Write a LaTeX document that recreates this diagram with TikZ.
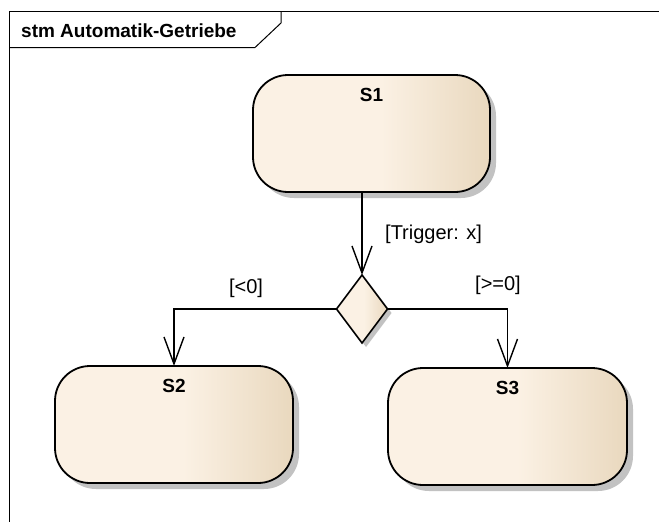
\documentclass[tikz,border=0pt]{standalone}
\usepackage{fontspec}
\setmainfont{Liberation Sans}
\usetikzlibrary{shapes.geometric,shadows,arrows.meta}

\definecolor{stateLight}{HTML}{FBF1E4}
\definecolor{stateDark}{HTML}{E9D8BE}
\definecolor{shadowGray}{HTML}{C2C2C2}

% flat cream on the left, turning tan towards the right edge
\pgfdeclarehorizontalshading{statefill}{100bp}{%
  color(0bp)=(stateLight); color(25bp)=(stateLight); color(52bp)=(stateLight);
  color(75bp)=(stateDark); color(100bp)=(stateDark)}

\tikzset{
  statebox/.style={draw=black, line width=1.8pt, rounded corners=35pt,
    shading=statefill, shading angle=0,
    drop shadow={shadow xshift=6pt, shadow yshift=-6pt, fill=shadowGray, opacity=1},
    inner sep=0pt, outer sep=0pt},
  choice/.style={diamond, draw=black, line width=1.6pt, aspect=0.75,
    shading=statefill, shading angle=0,
    drop shadow={shadow xshift=4pt, shadow yshift=-4pt, fill=shadowGray, opacity=1},
    minimum width=51pt, minimum height=68pt, inner sep=0pt, outer sep=0pt},
  statename/.style={font=\fontsize{19}{21}\selectfont\bfseries, inner sep=0pt},
  guard/.style={font=\fontsize{20}{22}\selectfont, inner sep=0pt},
  flow/.style={draw=black, line width=1.4pt,
    -{Straight Barb[length=27pt, width=20pt, line width=1.4pt]}},
  frameline/.style={draw=black, line width=1pt}
}

\begin{document}
\begin{tikzpicture}[x=1pt, y=-1pt]
  \useasboundingbox[fill=white] (0,0) rectangle (659,522);

  % diagram frame and its name tab
  \draw[frameline] (9,522) -- (9,11) -- (659,11);
  \draw[frameline] (9,47.5) -- (255,47.5) -- (281,23) -- (281,11);
  \node[anchor=base west, statename] (title) at (21,37) {stm Automatik-Getriebe};

  % states
  \node[statebox, minimum width=237pt, minimum height=117pt] (S1) at (371.5,133.5) {};
  \node[statebox, minimum width=238pt, minimum height=117pt] (S2) at (174,424.5) {};
  \node[statebox, minimum width=239pt, minimum height=117pt] (S3) at (507.5,426.5) {};

  \node[statename, anchor=north] (S1name) at ([yshift=-13pt]S1.north) {S1};
  \node[statename, anchor=north] (S2name) at ([yshift=-13pt]S2.north) {S2};
  \node[statename, anchor=north] (S3name) at ([yshift=-13pt]S3.north) {S3};

  % choice pseudostate
  \node[choice] (ch) at (362,309) {};

  % transitions
  \draw[flow] (ch.north |- S1.south) -- (ch.north);
  \draw[flow] (ch.west) -| (S2.north);
  \draw[flow] (ch.east) -| (S3.north);

  % guards
  \node[guard, anchor=west] (gTrig) at (385,234) {[Trigger: x]};
  \node[guard] (gNeg) at (246,288) {[<0]};
  \node[guard] (gPos) at (498,285) {[>=0]};
\end{tikzpicture}
\end{document}
